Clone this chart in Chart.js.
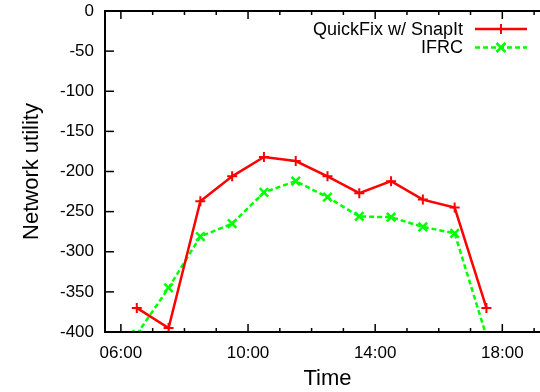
<!DOCTYPE html>
<html lang="en">
<head>
    <meta charset="UTF-8">
    <title>Network utility over time</title>
    <script src="https://cdn.jsdelivr.net/npm/chart.js@4.4.0/dist/chart.umd.min.js"></script>
    <style>
        html, body { margin: 0; padding: 0; overflow: hidden; background: #fff; }
        #wrap { width: 560px; height: 392px; }
    </style>
</head>
<body>
<div id="wrap"><canvas id="chart" width="560" height="392"></canvas></div>
<script>

// hours of the day (x)
const hours = [6.5, 7.5, 8.5, 9.5, 10.5, 11.5, 12.5, 13.5, 14.5, 15.5, 16.5, 17.5];
const snapIt = [-370, -395, -237, -206, -182, -187, -206, -227, -212, -235, -245, -370];
const ifrc = [-403, -345, -281, -265, -226, -212, -232, -256, -257, -269, -277, -405];

const xTickHours = [6, 10, 14, 18];
const yTickValues = [0, -50, -100, -150, -200, -250, -300, -350, -400];

const seriesNames = ['QuickFix w/ SnapIt', 'IFRC'];

const FONT = 'Liberation Sans, Arial, Helvetica, sans-serif';

function toPoints(values) {
    return hours.map((h, i) => ({ x: h, y: values[i] }));
}

// gnuplot-ish frame: box with inward ticks, and the key in the top right
const framePlugin = {
    id: 'frame',
    afterDatasetsDraw(chart) {
        const ctx = chart.ctx;
        const a = chart.chartArea;
        const xs = chart.scales.x;
        const ys = chart.scales.y;
        ctx.save();
        ctx.strokeStyle = '#000';

        ctx.lineWidth = 1.5;
        for (let h = Math.ceil(xs.min); h <= Math.floor(xs.max); h++) {
            const px = xs.getPixelForValue(h);
            const len = xTickHours.includes(h) ? 8 : 4;
            ctx.beginPath();
            ctx.moveTo(px, a.bottom);
            ctx.lineTo(px, a.bottom - len);
            ctx.moveTo(px, a.top);
            ctx.lineTo(px, a.top + len);
            ctx.stroke();
        }
        yTickValues.forEach(v => {
            const py = ys.getPixelForValue(v);
            ctx.beginPath();
            ctx.moveTo(a.left, py);
            ctx.lineTo(a.left + 9, py);
            ctx.stroke();
        });

        ctx.lineWidth = 2;
        ctx.beginPath();
        ctx.moveTo(a.right, a.top);
        ctx.lineTo(a.left, a.top);
        ctx.lineTo(a.left, a.bottom);
        ctx.lineTo(a.right, a.bottom);
        ctx.stroke();

        // key
        ctx.font = '18px ' + FONT;
        ctx.textAlign = 'right';
        ctx.textBaseline = 'middle';
        ctx.fillStyle = '#000';
        chart.data.datasets.forEach((ds, i) => {
            const y = 29 + i * 18.5;
            ctx.fillText(ds.label, 463, y + 1);
            ctx.strokeStyle = ds.borderColor;
            ctx.lineWidth = ds.borderWidth;
            ctx.setLineDash(ds.borderDash || []);
            ctx.beginPath();
            ctx.moveTo(475, y);
            ctx.lineTo(527, y);
            ctx.stroke();
            ctx.setLineDash([]);
            ctx.lineWidth = ds.pointBorderWidth;
            const r = ds.pointRadius;
            ctx.beginPath();
            if (ds.pointStyle === 'cross') {
                ctx.moveTo(501 - r, y); ctx.lineTo(501 + r, y);
                ctx.moveTo(501, y - r); ctx.lineTo(501, y + r);
            } else {
                const d = r * 0.75;
                ctx.moveTo(501 - d, y - d); ctx.lineTo(501 + d, y + d);
                ctx.moveTo(501 - d, y + d); ctx.lineTo(501 + d, y - d);
            }
            ctx.stroke();
        });
        ctx.restore();
    }
};

const ctx = document.getElementById('chart').getContext('2d');
const myChart = new Chart(ctx, {
    type: 'line',
    data: {
        datasets: [{
            label: seriesNames[0],
            data: toPoints(snapIt),
            borderColor: 'rgb(255, 0, 0)',
            backgroundColor: 'rgb(255, 0, 0)',
            borderWidth: 2.5,
            pointStyle: 'cross',
            pointRadius: 5,
            pointBorderWidth: 2,
            pointBorderColor: 'rgb(255, 0, 0)',
            fill: false,
            tension: 0,
            clip: 0
        }, {
            label: seriesNames[1],
            data: toPoints(ifrc),
            borderColor: 'rgb(0, 255, 0)',
            backgroundColor: 'rgb(0, 255, 0)',
            borderWidth: 2.5,
            borderDash: [5, 3],
            pointStyle: 'crossRot',
            pointRadius: 6,
            pointBorderWidth: 2.5,
            pointBorderColor: 'rgb(0, 255, 0)',
            fill: false,
            tension: 0,
            clip: 0
        }]
    },
    options: {
        responsive: false,
        animation: false,
        layout: { padding: { top: 11, right: 10, left: 0, bottom: 0 } },
        plugins: { legend: { display: false }, tooltip: { enabled: false } },
        scales: {
            x: {
                type: 'linear',
                min: 5.5,
                max: 19.5,
                afterBuildTicks: s => { s.ticks = xTickHours.map(v => ({ value: v })); },
                afterFit: s => { s.height = 60; s.paddingLeft = 0; s.paddingRight = 0; },
                grid: { display: false, drawTicks: false },
                border: { display: false },
                ticks: {
                    padding: 11,
                    color: '#000',
                    font: { family: FONT, size: 17 },
                    maxRotation: 0,
                    callback: v => String(v).padStart(2, '0') + ':00'
                },
                title: {
                    display: true,
                    text: 'Time',
                    color: '#000',
                    font: { family: FONT, size: 22 },
                    padding: { top: 0, bottom: 0 }
                }
            },
            y: {
                min: -400,
                max: 0,
                afterBuildTicks: s => { s.ticks = yTickValues.map(v => ({ value: v })); },
                afterFit: s => { s.width = 105; s.paddingTop = 0; s.paddingBottom = 0; },
                grid: { display: false, drawTicks: false },
                border: { display: false },
                ticks: {
                    padding: 11,
                    color: '#000',
                    font: { family: FONT, size: 17 }
                },
                title: {
                    display: true,
                    text: 'Network utility',
                    color: '#000',
                    font: { family: FONT, size: 22 },
                    padding: { top: 19, bottom: 0 }
                }
            }
        }
    },
    plugins: [framePlugin]
});
</script>
</body>
</html>
